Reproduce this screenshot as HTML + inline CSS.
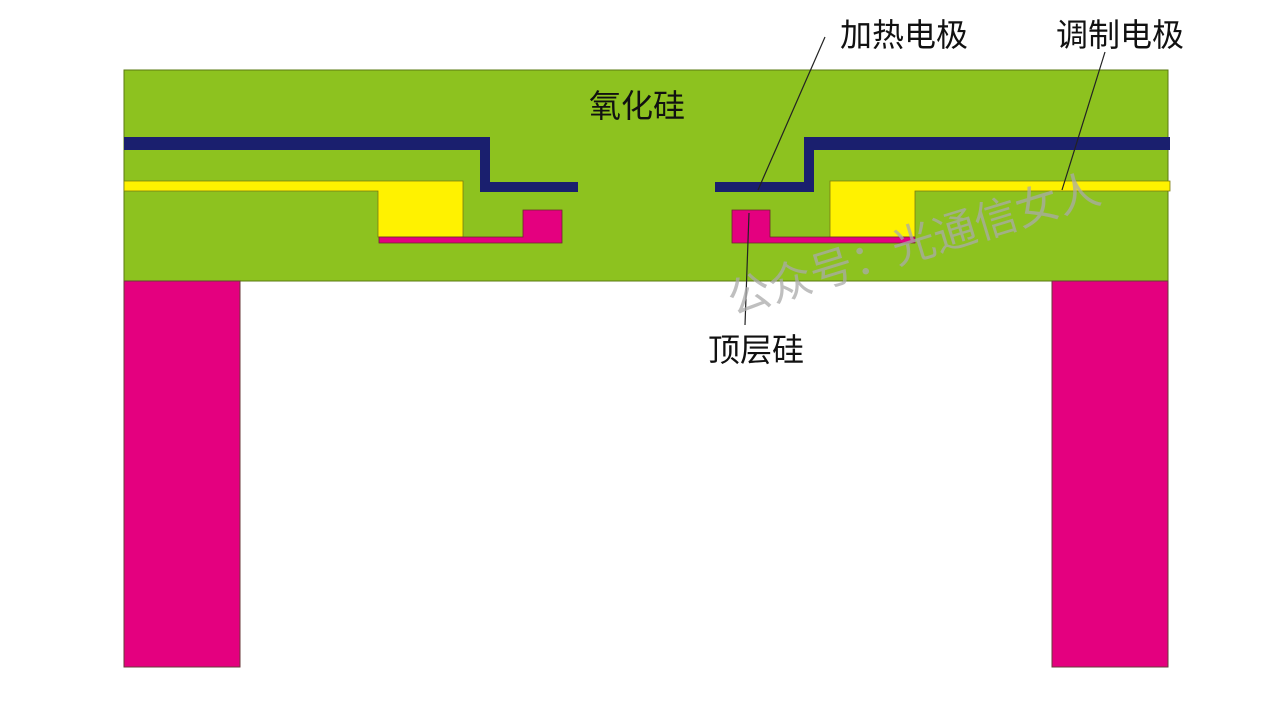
<!DOCTYPE html>
<html><head><meta charset="utf-8"><style>
body{margin:0;width:1268px;height:714px;background:#fff;overflow:hidden;position:relative}
</style></head><body>
<svg width="1268" height="714" style="position:absolute;left:0;top:0" font-family="'Liberation Sans','Noto Sans CJK SC',sans-serif">
<rect x="124" y="70" width="1044" height="211" fill="#8dc21f" stroke="#5a7a10" stroke-width="1"/>
<rect x="124" y="281" width="116" height="386" fill="#e4007f" stroke="#6a3a3a" stroke-width="1"/>
<rect x="1052" y="281" width="116" height="386" fill="#e4007f" stroke="#6a3a3a" stroke-width="1"/>
<path d="M124 137 H490 V182 H578 V192 H480 V150 H124 Z" fill="#1a1f6e"/>
<path d="M1170 137 H804 V182 H715 V192 H814 V150 H1170 Z" fill="#1a1f6e"/>
<path d="M124 181 H463 V237 H378 V191 H124 Z" fill="#fff200" stroke="#7a7a10" stroke-width="0.8"/>
<path d="M1170 181 H830 V237 H915 V191 H1170 Z" fill="#fff200" stroke="#7a7a10" stroke-width="0.8"/>
<path d="M379 237 H523 V210 H562 V243 H379 Z" fill="#e4007f" stroke="#6a2a2a" stroke-width="0.8"/>
<path d="M732 210 H770 V237 H915 V243 H732 Z" fill="#e4007f" stroke="#6a2a2a" stroke-width="0.8"/>
<line x1="825" y1="37" x2="758" y2="190" stroke="#222" stroke-width="1.2"/>
<line x1="1105" y1="52" x2="1062" y2="190" stroke="#222" stroke-width="1.2"/>
<line x1="749" y1="213" x2="745" y2="325" stroke="#222" stroke-width="1.2"/>
<g font-size="32" fill="#111">
<text x="589" y="117">氧化硅</text>
<text x="840" y="46">加热电极</text>
<text x="1056" y="46">调制电极</text>
<text x="708" y="361">顶层硅</text>
</g>
<text x="0" y="0" font-size="43" fill="#aaa" fill-opacity="0.75" transform="translate(733,315) rotate(-17)">公众号：光通信女人</text>
</svg>
</body></html>
